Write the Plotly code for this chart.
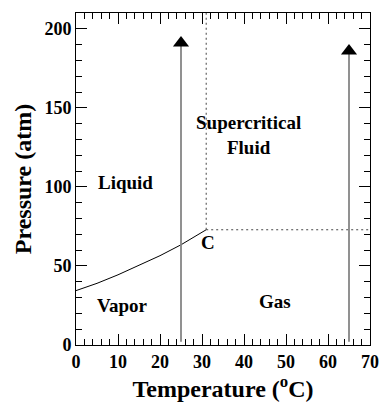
import plotly.graph_objects as go
from plotly.subplots import make_subplots

# Liquid–vapor coexistence curve of CO2 up to the critical point
curve_temp = [0, 5, 10, 15, 20, 25, 31]
curve_pres = [34.4, 39.0, 44.4, 50.2, 56.5, 63.4, 72.9]

crit_temp = 31
crit_pres = 72.9

# Heating paths (vertical compression arrows), with the pressure where each head sits
arrow_temps = [25, 65]
arrow_heads = [191, 186]

region_labels = ["Liquid", "Vapor", "Gas", "Supercritical<br>Fluid", "C"]
label_x = [11.8, 11.1, 47.3, 41.1, 31.4]
label_y = [103, 25, 27.5, 133, 65]

x_range = [0, 70]
y_range = [0, 210]

font_family = "Liberation Serif"

fig = make_subplots(rows=1, cols=1)

fig.add_trace(go.Scatter(x=curve_temp, y=curve_pres, mode="lines",
                         line=dict(color="black", width=1), hoverinfo="skip"), row=1, col=1)

# Critical isotherm and isobar
fig.add_trace(go.Scatter(x=[crit_temp, crit_temp], y=[crit_pres, y_range[1]], mode="lines",
                         line=dict(color="#444", width=1, dash="2px,3px"), hoverinfo="skip"),
              row=1, col=1)
fig.add_trace(go.Scatter(x=[crit_temp, x_range[1]], y=[crit_pres, crit_pres], mode="lines",
                         line=dict(color="#444", width=1, dash="2px,3px"), hoverinfo="skip"),
              row=1, col=1)

for t, head in zip(arrow_temps, arrow_heads):
    fig.add_trace(go.Scatter(x=[t, t], y=[y_range[0] + 2, head], mode="lines",
                             line=dict(color="#858585", width=1.8), hoverinfo="skip"),
                  row=1, col=1)
    fig.add_trace(go.Scatter(x=[t], y=[head], mode="markers",
                             marker=dict(symbol="triangle-up", size=14, color="black"),
                             hoverinfo="skip"), row=1, col=1)

for txt, lx, ly in zip(region_labels, label_x, label_y):
    fig.add_annotation(x=lx, y=ly, xref="x", yref="y", text=txt, showarrow=False,
                       font=dict(family=font_family, size=19, color="black", weight="bold"))

axis_common = dict(showline=True, linecolor="black", linewidth=1,
                   ticks="inside", ticklen=11, tickcolor="black",
                   showgrid=False, zeroline=False, mirror="allticks", tickwidth=1,
                   tickfont=dict(family=font_family, size=18, color="black", weight="bold"))

fig.update_xaxes(range=x_range, dtick=10,
                 minor=dict(dtick=2, ticks="inside", ticklen=6, tickcolor="black", tickwidth=1),
                 title=dict(text="Temperature (<sup>o</sup>C)",
                            font=dict(family=font_family, size=24, color="black", weight="bold"),
                            standoff=4),
                 row=1, col=1, **axis_common)
fig.update_yaxes(range=y_range, dtick=50,
                 minor=dict(dtick=10, ticks="inside", ticklen=6, tickcolor="black", tickwidth=1),
                 title=dict(text="Pressure (atm)",
                            font=dict(family=font_family, size=24, color="black", weight="bold"),
                            standoff=6),
                 row=1, col=1, **axis_common)

fig.update_layout(width=391, height=404, showlegend=False,
                  margin=dict(l=76, r=12, t=12, b=57),
                  paper_bgcolor="white", plot_bgcolor="white")

fig.write_html("out.html")
